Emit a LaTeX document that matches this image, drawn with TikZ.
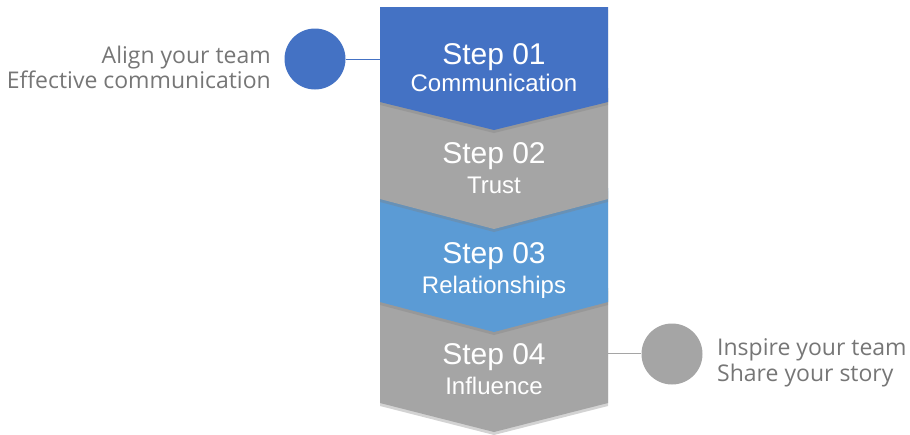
\documentclass[tikz,border=0pt]{standalone}
\usepackage{fontspec}
\setmainfont{Liberation Sans}
\newfontfamily\sidefont{Open Sans}
\usetikzlibrary{shadows}
\definecolor{bluea}{HTML}{4472C4}
\definecolor{blueb}{HTML}{5B9BD5}
\definecolor{greyc}{HTML}{A5A5A5}
\definecolor{sidetext}{HTML}{767676}
\tikzset{
  chev/.style={draw=none, drop shadow={opacity=0.35, shadow xshift=0pt, shadow yshift=-3pt}},
  bigt/.style={anchor=base, text=white, font=\fontsize{30}{30}\selectfont, inner sep=0pt},
  smallt/.style={anchor=base, text=white, font=\fontsize{24}{24}\selectfont, inner sep=0pt},
  sidet/.style={inner sep=0pt, text=sidetext, font=\sidefont\fontsize{23}{23}\selectfont},
  dot/.style={circle, minimum size=61pt, inner sep=0pt, draw=none},
}
\begin{document}
\begin{tikzpicture}[x=1pt,y=-1pt]
\useasboundingbox (0,0) rectangle (910,434);
% chevrons drawn bottom-up so upper ones overlap
\fill[greyc, chev] (380,288) -- (494,316) -- (608,288) -- (608,403) -- (494,432) -- (380,403) -- cycle;
\fill[blueb, chev] (380,188) -- (494,216) -- (608,188) -- (608,302) -- (494,332) -- (380,302) -- cycle;
\fill[greyc, chev] (380,88) -- (494,116) -- (608,88) -- (608,199) -- (494,229) -- (380,199) -- cycle;
\fill[bluea, chev] (380,7) -- (608,7) -- (608,102) -- (494,130) -- (380,102) -- cycle;
% texts in chevrons
\node[bigt] (s1) at (494,64) {Step 01};
\node[smallt] (c1) at (494,91) {Communication};
\node[bigt] (s2) at (494,163) {Step 02};
\node[smallt] (c2) at (494,193) {Trust};
\node[bigt] (s3) at (494,263) {Step 03};
\node[smallt] (c3) at (494,293) {Relationships};
\node[bigt] (s4) at (494,364) {Step 04};
\node[smallt] (c4) at (494,394) {Influence};
% side items
\coordinate (e1) at (380,59);
\coordinate (e4) at (608,353);
\node[dot, fill=bluea] (d1) at (315,59) {};
\node[dot, fill=greyc] (d4) at (672,354) {};
\draw[bluea, line width=0.8pt] (d1.east) -- (e1);
\draw[greyc, line width=0.8pt] (e4) -- (d4.west |- e4);
\node[sidet, anchor=base east] (l1) at (271,63) {Align your team};
\node[sidet, anchor=base east] (l2) at (271,88) {Effective communication};
\node[sidet, anchor=base west] (r1) at (717,355) {Inspire your team};
\node[sidet, anchor=base west] (r2) at (717,381) {Share your story};
\end{tikzpicture}
\end{document}
